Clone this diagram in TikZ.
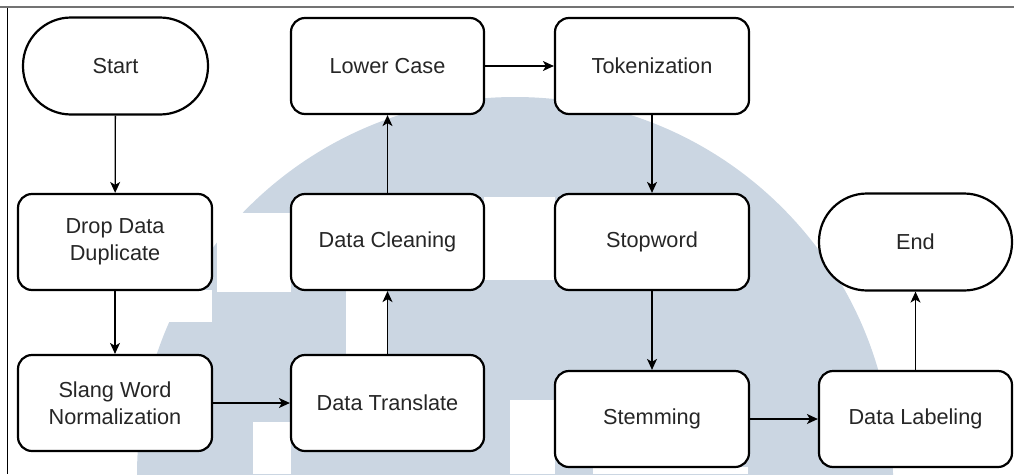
\documentclass[tikz,border=0pt]{standalone}
\usepackage{fontspec}
\setmainfont{Liberation Sans}
\usetikzlibrary{arrows.meta}
\definecolor{wmblue}{RGB}{203,214,226}
\definecolor{txt}{RGB}{38,38,38}
\tikzset{
  stepbox/.style={draw=black, line width=2.2pt, rounded corners=14pt, fill=white,
    minimum width=193pt, minimum height=96pt, inner sep=0pt, align=center,
    text=txt, font=\fontsize{21.7}{27}\selectfont},
  termbox/.style={stepbox, rounded corners=48pt, minimum height=97pt},
  conn/.style={draw=black, line width=1.3pt,
    -{Stealth[length=11pt, width=10pt, inset=3pt]}},
}
\begin{document}
\begin{tikzpicture}[x=1pt, y=-1pt]
\useasboundingbox (0,0) rectangle (1014,474);
% watermark
\begin{scope}
  \clip (0,0) rectangle (1014,474);
  \fill[wmblue] (515,475) circle[radius=378pt];
  \fill[white] (217,213) rectangle (291,292);
  \fill[white] (0,290) rectangle (212,322);
  \fill[white] (484,197) rectangle (555,280);
  \fill[white] (253,422) rectangle (291,474);
  \fill[white] (346,290) rectangle (388,355);
  \fill[white] (510,400) rectangle (555,474);
  \fill[white] (593,467) rectangle (748,474);
\end{scope}
% frame lines
\draw[line width=2pt, black!55] (0,7) -- (1014,7);
\draw[line width=1.3pt, black] (7.5,8) -- (7.5,474);
% nodes
\node[termbox, minimum width=185pt] (start) at (115.5,66) {Start};
\node[stepbox, minimum width=194pt] (drop) at (115,242) {Drop Data\\Duplicate};
\node[stepbox, minimum width=194pt] (slang) at (115,403) {Slang Word\\Normalization};
\node[stepbox] (lower) at (387.5,66) {Lower Case};
\node[stepbox] (clean) at (387.5,242) {Data Cleaning};
\node[stepbox] (trans) at (387.5,403) {Data Translate};
\node[stepbox, minimum width=194pt] (token) at (652,66) {Tokenization};
\node[stepbox, minimum width=194pt] (stop) at (652,242) {Stopword};
\node[stepbox, minimum width=194pt] (stem) at (652,419) {Stemming};
\node[termbox] (end) at (915.5,242) {End};
\node[stepbox] (label) at (915.5,419) {Data Labeling};
% connectors
\draw[conn] (start) -- (drop);
\draw[conn] (drop) -- (slang);
\draw[conn] (slang) -- (trans);
\draw[conn] (trans) -- (clean);
\draw[conn] (clean) -- (lower);
\draw[conn] (lower) -- (token);
\draw[conn] (token) -- (stop);
\draw[conn] (stop) -- (stem);
\draw[conn] (stem) -- (label);
\draw[conn] (label) -- (end);
\end{tikzpicture}
\end{document}
